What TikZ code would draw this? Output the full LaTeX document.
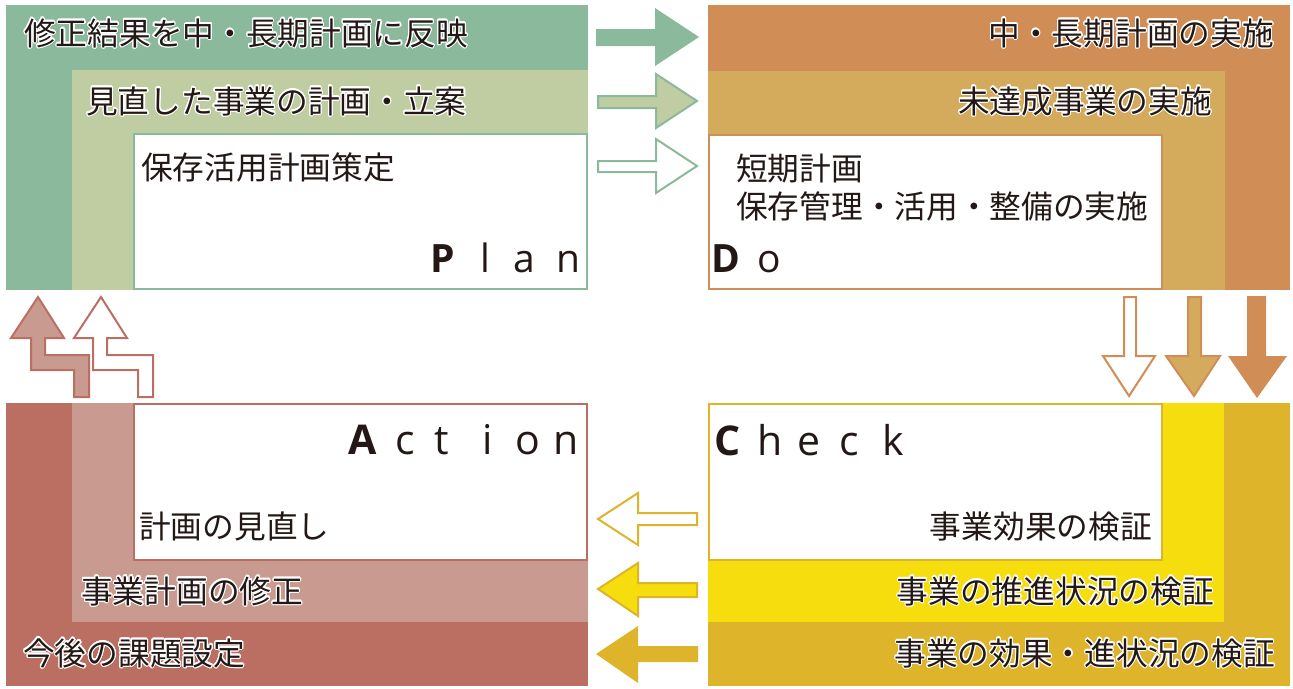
\documentclass[tikz,border=0pt]{standalone}
\usepackage{fontspec}
\usepackage{contour}
\newfontfamily\jp{Noto Sans CJK JP}
\newfontfamily\lat{Open Sans}
\contourlength{1.1pt}
\contournumber{20}
\definecolor{gO}{HTML}{8AB99B}
\definecolor{gM}{HTML}{C0CCA1}
\definecolor{oO}{HTML}{D08D55}
\definecolor{oM}{HTML}{D4AB5D}
\definecolor{yO}{HTML}{DEB42A}
\definecolor{yM}{HTML}{F6DD0D}
\definecolor{rO}{HTML}{BB6F63}
\definecolor{rM}{HTML}{C99A8F}
\definecolor{txt}{HTML}{231815}
\newcommand\Lg[2]{\rlap{#1}\hspace{#2pt}}
\tikzset{
  jt/.style={font=\jp\fontsize{31.7}{31.7}\selectfont, text=txt, inner sep=0pt},
  lt/.style={font=\lat\fontsize{#1}{#1}\selectfont, text=txt, inner sep=0pt, anchor=base west},
  inbox/.style={fill=white, draw=#1, line width=2pt},
  barrow/.style={line width=2pt, line join=miter},
}
\begin{document}
\begin{tikzpicture}[x=1pt,y=-1pt]
\useasboundingbox (0,0) rectangle (1293,688);
% ---------- Plan ----------
\fill[gO] (6,5) rectangle (588,290);
\fill[gM] (72,70) rectangle (588,290);
\path[inbox=gO] (134,134) rectangle (587,289);
% ---------- Do ----------
\fill[oO] (708,5) rectangle (1290,290);
\fill[oM] (708,71) rectangle (1225,290);
\path[inbox=oO] (709,135) rectangle (1162,289);
% ---------- Check ----------
\fill[yO] (708,403) rectangle (1290,686);
\fill[yM] (708,403) rectangle (1224,622);
\path[inbox=yO] (709,404) rectangle (1162,560);
% ---------- Action ----------
\fill[rO] (6,403) rectangle (588,686);
\fill[rM] (72,403) rectangle (588,622);
\path[inbox=rO] (134,404) rectangle (587,560);

% ---------- right arrows ----------
\fill[gO] (596,29) -- (655,29) -- (655,8) -- (699,37) -- (655,66) -- (655,46) -- (596,46) -- cycle;
\filldraw[barrow, draw=gO, fill=gM] (598,96) -- (656,96) -- (656,74) -- (697,101) -- (656,128) -- (656,108) -- (598,108) -- cycle;
\filldraw[barrow, draw=gO, fill=white] (598,161) -- (656,161) -- (656,139) -- (697,166) -- (656,193) -- (656,172) -- (598,172) -- cycle;

% ---------- down arrows ----------
\filldraw[barrow, draw=oO, fill=white] (1124,297) -- (1136,297) -- (1136,356) -- (1155,356) -- (1129,396) -- (1103,356) -- (1124,356) -- cycle;
\filldraw[barrow, draw=oO, fill=oM] (1188,297) -- (1201,297) -- (1201,356) -- (1220,356) -- (1194,396) -- (1166,356) -- (1188,356) -- cycle;
\fill[oO] (1247,296) -- (1266,296) -- (1266,356) -- (1287,356) -- (1257,398) -- (1228,356) -- (1247,356) -- cycle;

% ---------- left arrows ----------
\filldraw[barrow, draw=yO, fill=white] (697,513) -- (638,513) -- (638,493) -- (598,519) -- (638,545) -- (638,525) -- (697,525) -- cycle;
\filldraw[barrow, draw=yO, fill=yM] (697,583) -- (638,583) -- (638,563) -- (598,589) -- (638,616) -- (638,597) -- (697,597) -- cycle;
\fill[yO] (698,646) -- (638,646) -- (638,626) -- (596,654) -- (638,683) -- (638,662) -- (698,662) -- cycle;

% ---------- up zigzag arrows ----------
\filldraw[barrow, draw=rO, fill=rM] (38,297) -- (64,338) -- (45,338) -- (45,355) -- (89,355) -- (89,397) -- (74,397) -- (74,370) -- (31,370) -- (31,338) -- (11,338) -- cycle;
\filldraw[barrow, draw=rO, fill=white] (101,297) -- (127,338) -- (107,338) -- (107,355) -- (153,355) -- (153,397) -- (138,397) -- (138,370) -- (93,370) -- (93,338) -- (74,338) -- cycle;

% ---------- Plan texts ----------
\node[jt, anchor=base west] (p1) at (24,45) {\contour{white}{修正結果を中・長期計画に反映}};
\node[jt, anchor=base west] (p2) at (86,113) {\contour{white}{見直した事業の計画・立案}};
\node[jt, anchor=base west] (p3) at (141,179) {保存活用計画策定};
\node[lt=39] (plan) at (430,272) {\Lg{\bfseries P}{50}\Lg{l}{33}\Lg{a}{43}n};

% ---------- Do texts ----------
\node[jt, anchor=base east] (d1) at (1274,45) {\contour{white}{中・長期計画の実施}};
\node[jt, anchor=base east] (d2) at (1212,113) {\contour{white}{未達成事業の実施}};
\node[jt, anchor=base west] (d3) at (736,180) {短期計画};
\node[jt, anchor=base west] (d4) at (736,218) {保存管理・活用・整備の実施};
\node[lt=39] (do) at (711,272) {\Lg{\bfseries D}{46}o};

% ---------- Check texts ----------
\node[lt=41] (check) at (714,455) {\Lg{\bfseries C}{43}\Lg{h}{40}\Lg{e}{42}\Lg{c}{43}k};
\node[jt, anchor=base east] (c1) at (1152,538) {事業効果の検証};
\node[jt, anchor=base east] (c2) at (1214,603) {\contour{white}{事業の推進状況の検証}};
\node[jt, anchor=base east] (c3) at (1275,665) {\contour{white}{事業の効果・進状況の検証}};

% ---------- Action texts ----------
\node[lt=41] (action) at (348,454) {\Lg{\bfseries A}{47}\Lg{c}{39}\Lg{t}{48}\Lg{i}{33}\Lg{o}{38}n};
\node[jt, anchor=base west] (a1) at (139,538) {計画の見直し};
\node[jt, anchor=base west] (a2) at (81,603) {\contour{white}{事業計画の修正}};
\node[jt, anchor=base west] (a3) at (23,665) {\contour{white}{今後の課題設定}};
\end{tikzpicture}
\end{document}
